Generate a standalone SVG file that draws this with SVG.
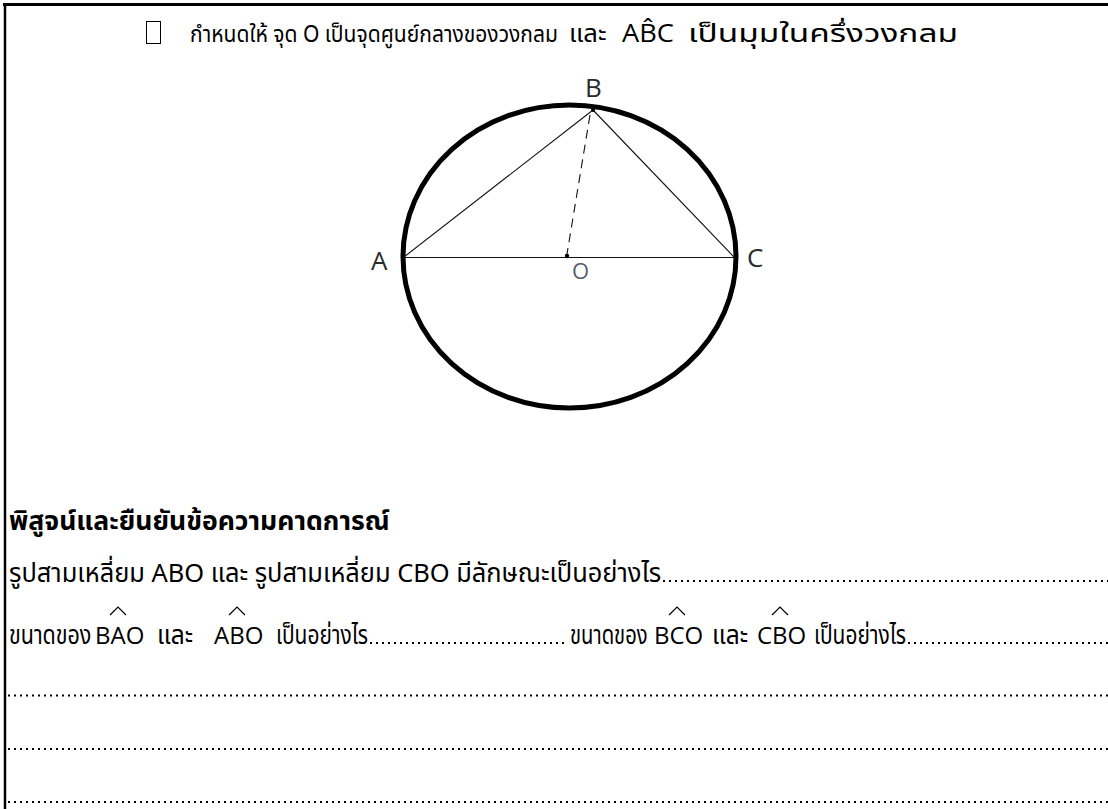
<svg xmlns="http://www.w3.org/2000/svg" width="1108" height="809" viewBox="0 0 1108 809">
<style>
.t{font-family:"Noto Sans Thai","Leelawadee UI","Noto Sans","DejaVu Sans",sans-serif;font-size:26px;fill:#000}
.bold{font-weight:bold}
.lat{font-family:"Open Sans","Noto Sans","DejaVu Sans",sans-serif;font-size:24px;fill:#000}
.lbl{font-family:"Open Sans","Noto Sans",sans-serif;font-size:26px;fill:#2a2a2a}
.thin{stroke:#111;stroke-width:1.1;fill:none}
.dots{stroke:#000;stroke-width:2;stroke-dasharray:2 4;fill:none}
.hat{stroke:#000;stroke-width:1.2;fill:none}
</style>
<rect width="1108" height="809" fill="#fff"/>
<g id="frame">
<line x1="3" y1="4.5" x2="1108" y2="4.5" stroke="#000" stroke-width="3"/>
<line x1="5" y1="3" x2="5" y2="809" stroke="#000" stroke-width="2.5"/>
</g>
<g id="header">
<rect x="146.5" y="21.5" width="14" height="22" fill="none" stroke="#000" stroke-width="1"/>
<text class="t" transform="translate(190,42) scale(0.84,1)" style="font-size:23px" textLength="438" lengthAdjust="spacingAndGlyphs">กำหนดให้ จุด O เป็นจุดศูนย์กลางของวงกลม</text>
<text class="t" transform="translate(569,42) scale(0.8,1)" style="font-size:25px" textLength="47" lengthAdjust="spacingAndGlyphs">และ</text>
<text class="lat" x="622" y="42" style="font-size:25px" textLength="52" lengthAdjust="spacingAndGlyphs">AB̂C</text>
<text class="t" transform="translate(688,42) scale(0.9,1)" style="font-size:24px" textLength="300" lengthAdjust="spacingAndGlyphs">เป็นมุมในครึ่งวงกลม</text>
</g>
<g id="figure">
<ellipse cx="569.5" cy="256.5" rx="166.5" ry="151.5" fill="none" stroke="#000" stroke-width="5"/>
<line class="thin" x1="404" y1="257.5" x2="735" y2="257.5"/>
<line class="thin" x1="404" y1="257" x2="593" y2="110"/>
<line class="thin" x1="593" y1="110" x2="734" y2="257"/>
<line class="thin" x1="590" y1="115" x2="567" y2="254" stroke-dasharray="9 6" stroke-width="1.4"/>
<circle cx="567" cy="256" r="2.2" fill="#000"/>
<circle cx="593" cy="110" r="2" fill="#000"/>
<text class="lbl" x="371" y="270">A</text>
<text class="lbl" x="585" y="97">B</text>
<text class="lbl" x="747" y="267">C</text>
<text class="lbl" x="572" y="279" style="font-size:22px;fill:#55606a">O</text>
</g>
<g id="question">
<text class="t bold" transform="translate(9,530) scale(0.9,1)" textLength="423" lengthAdjust="spacingAndGlyphs">พิสูจน์และยืนยันข้อความคาดการณ์</text>
<text class="t" transform="translate(9,582) scale(0.92,1)" textLength="709" lengthAdjust="spacingAndGlyphs">รูปสามเหลี่ยม ABO และ รูปสามเหลี่ยม CBO มีลักษณะเป็นอย่างไร</text>
<line class="dots" x1="663" y1="581" x2="1108" y2="581"/>
<text class="t" transform="translate(9,644) scale(0.8,1)" textLength="103" lengthAdjust="spacingAndGlyphs">ขนาดของ</text>
<text class="lat" x="95" y="644">BAO</text>
<polyline class="hat" points="110,615 118,607 126,615"/>
<text class="t" transform="translate(157,644) scale(0.8,1)" textLength="45" lengthAdjust="spacingAndGlyphs">และ</text>
<text class="lat" x="214" y="644">ABO</text>
<polyline class="hat" points="229,615 237,607 245,615"/>
<text class="t" transform="translate(276,644) scale(0.8,1)" textLength="115" lengthAdjust="spacingAndGlyphs">เป็นอย่างไร</text>
<line class="dots" x1="370" y1="643" x2="568" y2="643"/>
<text class="t" transform="translate(570,644) scale(0.8,1)" textLength="97" lengthAdjust="spacingAndGlyphs">ขนาดของ</text>
<text class="lat" x="654" y="644">BCO</text>
<polyline class="hat" points="669,615 677,607 685,615"/>
<text class="t" transform="translate(712,644) scale(0.8,1)" textLength="45" lengthAdjust="spacingAndGlyphs">และ</text>
<text class="lat" x="757" y="644">CBO</text>
<polyline class="hat" points="772,615 780,607 788,615"/>
<text class="t" transform="translate(814,644) scale(0.8,1)" textLength="115" lengthAdjust="spacingAndGlyphs">เป็นอย่างไร</text>
<line class="dots" x1="908" y1="643" x2="1108" y2="643"/>
<line class="dots" x1="8" y1="695.5" x2="1108" y2="695.5"/>
<line class="dots" x1="8" y1="749" x2="1108" y2="749"/>
<line class="dots" x1="8" y1="802" x2="1108" y2="802"/>
</g>
</svg>
